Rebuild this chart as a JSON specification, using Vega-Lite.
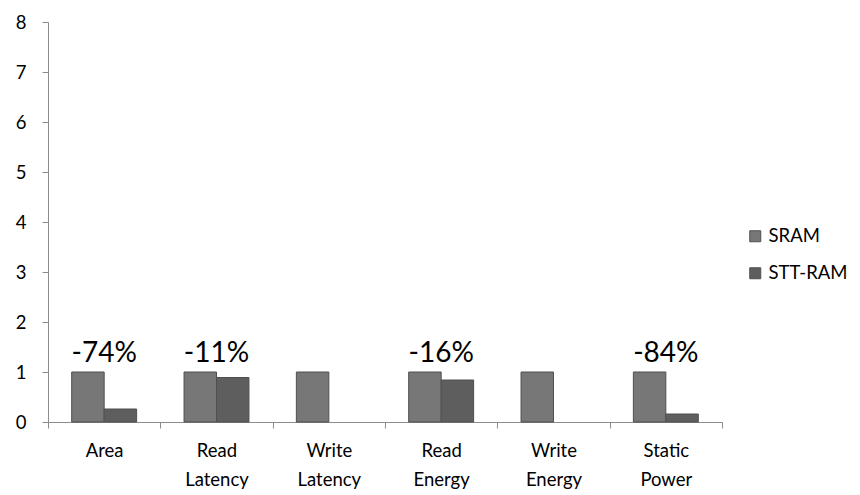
{
  "$schema": "https://vega.github.io/schema/vega-lite/v6.json",
  "width": 674,
  "height": 400,
  "autosize": {"type": "none"},
  "padding": {"left": 48, "top": 22, "right": 138, "bottom": 73},
  "background": "white",
  "config": {
    "view": {"stroke": null},
    "font": "Lato",
    "axis": {"grid": false, "domainColor": "#8c8c8c", "tickColor": "#8c8c8c", "labelColor": "#000000", "labelFontSize": 18.5, "title": null}
  },
  "data": {
    "values": [
      {"category": "Area", "series": "SRAM", "value": 1},
      {"category": "Area", "series": "STT-RAM", "value": 0.26, "label": "-74%"},
      {"category": "Read Latency", "series": "SRAM", "value": 1},
      {"category": "Read Latency", "series": "STT-RAM", "value": 0.89, "label": "-11%"},
      {"category": "Write Latency", "series": "SRAM", "value": 1},
      {"category": "Read Energy", "series": "SRAM", "value": 1},
      {"category": "Read Energy", "series": "STT-RAM", "value": 0.84, "label": "-16%"},
      {"category": "Write Energy", "series": "SRAM", "value": 1},
      {"category": "Static Power", "series": "SRAM", "value": 1},
      {"category": "Static Power", "series": "STT-RAM", "value": 0.16, "label": "-84%"}
    ]
  },
  "layer": [
    {
      "mark": {"type": "bar", "stroke": "#4f4f4f", "strokeWidth": 1},
      "encoding": {
        "x": {
          "field": "category",
          "type": "nominal",
          "sort": ["Area", "Read Latency", "Write Latency", "Read Energy", "Write Energy", "Static Power"],
          "scale": {"paddingInner": 0, "paddingOuter": 0},
          "axis": {
            "tickBand": "extent",
            "tickSize": 6,
            "labelAngle": 0,
            "labelPadding": 13,
            "labelLineHeight": 29,
            "labelExpr": "split(datum.label, ' ')"
          }
        },
        "xOffset": {
          "field": "series",
          "sort": ["SRAM", "STT-RAM"],
          "scale": {"paddingInner": 0, "paddingOuter": 0.73}
        },
        "y": {
          "field": "value",
          "type": "quantitative",
          "scale": {"domain": [0, 8]},
          "axis": {"values": [0, 1, 2, 3, 4, 5, 6, 7, 8], "tickSize": 6, "labelPadding": 16}
        },
        "color": {
          "field": "series",
          "type": "nominal",
          "scale": {"domain": ["SRAM", "STT-RAM"], "range": ["#777777", "#5e5e5e"]},
          "legend": {
            "title": null,
            "orient": "none",
            "legendX": 698,
            "legendY": 205,
            "symbolType": "square",
            "symbolSize": 121,
            "symbolStrokeColor": "#4f4f4f",
            "symbolStrokeWidth": 1,
            "symbolOpacity": 1,
            "labelFontSize": 18.5,
            "labelColor": "#000000",
            "labelOffset": 4,
            "rowPadding": 18
          }
        }
      }
    },
    {
      "transform": [
        {"joinaggregate": [{"op": "max", "field": "value", "as": "top"}], "groupby": ["category"]},
        {"filter": "datum.label != null"}
      ],
      "mark": {"type": "text", "fontSize": 28, "baseline": "alphabetic", "align": "center", "dy": -10, "color": "#000000"},
      "encoding": {
        "x": {"field": "category", "type": "nominal", "sort": ["Area", "Read Latency", "Write Latency", "Read Energy", "Write Energy", "Static Power"]},
        "y": {"field": "top", "type": "quantitative"},
        "text": {"field": "label"}
      }
    }
  ]
}
